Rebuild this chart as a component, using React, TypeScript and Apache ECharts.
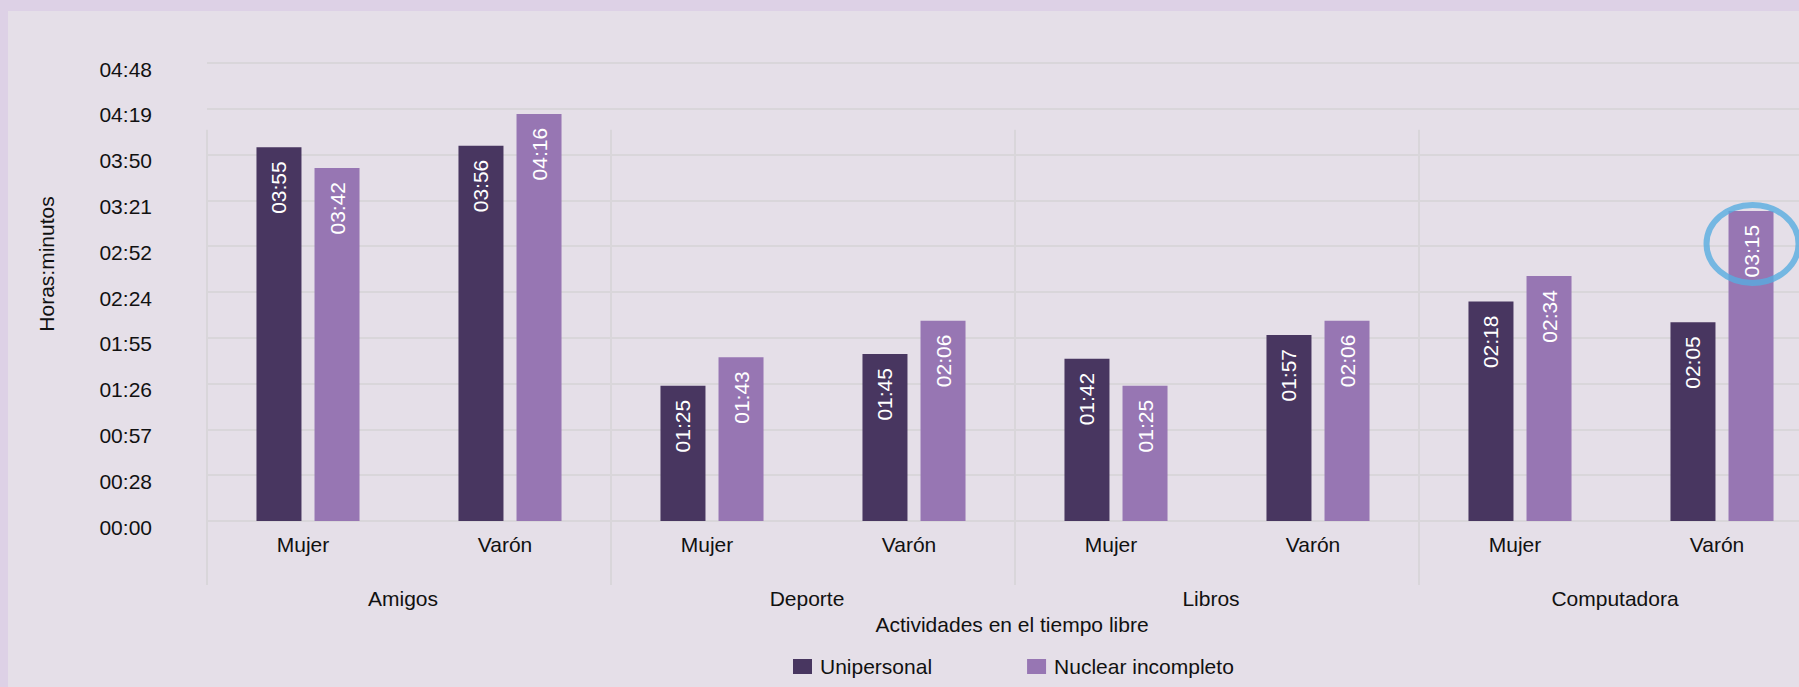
import React, { useEffect, useRef } from "react";
import * as echarts from "echarts";

// ---- data (minutes) ----
const groups = ["Amigos", "Deporte", "Libros", "Computadora"];
const subCategories = ["Mujer", "Varón", "Mujer", "Varón", "Mujer", "Varón", "Mujer", "Varón"];
const seriesNames = ["Unipersonal", "Nuclear incompleto"];
const unipersonal = [235, 236, 85, 105, 102, 117, 138, 125];
const nuclearIncompleto = [222, 256, 103, 126, 85, 126, 154, 195];
const axisMax = 288; // 04:48
const axisInterval = 28.8;
const separatorTopValue = 246;
const highlightIndex = 7;

const FONT = "'Liberation Sans', Arial, Helvetica, sans-serif";
const GRID_COLOR = "#d9d6da";
const DARK = "#483660";
const LIGHT = "#9776b3";

const pad = (n: number) => (n < 10 ? "0" + n : "" + n);
const fmt = (v: number) => {
  const m = Math.floor(v + 1e-6);
  return pad(Math.floor(m / 60)) + ":" + pad(m % 60);
};

export default function App() {
  const ref = useRef<HTMLDivElement>(null);
  useEffect(() => {
    if (!ref.current) return;
    const chart = echarts.init(ref.current, undefined, { renderer: "svg" });
    const barLabel = {
      show: true,
      position: "insideTop",
      rotate: 90,
      align: "right",
      verticalAlign: "middle",
      distance: 14,
      color: "#ffffff",
      fontSize: 21,
      fontFamily: FONT,
      formatter: (p: any) => fmt(p.value),
    };
    const option: any = {
      animation: false,
      backgroundColor: "#e5dfe8",
      textStyle: { fontFamily: FONT },
      grid: { left: 199, top: 52, width: 1616, height: 458, containLabel: false },
      legend: {
        data: seriesNames,
        left: 785,
        top: 645,
        padding: 0,
        itemWidth: 19,
        itemHeight: 15,
        itemGap: 95,
        icon: "rect",
        textStyle: { fontSize: 21, color: "#111", fontFamily: FONT, padding: [0, 0, 0, 3] },
      },
      xAxis: [
        {
          type: "category",
          data: subCategories,
          position: "bottom",
          axisLine: { show: true, lineStyle: { color: GRID_COLOR, width: 2 } },
          axisTick: { show: false },
          axisLabel: {
            fontSize: 21,
            color: "#111",
            margin: 13,
            fontFamily: FONT,
            interval: 0,
            padding: [0, 10, 0, 0],
          },
          splitLine: { show: false },
        },
        {
          type: "category",
          data: groups,
          position: "bottom",
          axisLine: { show: false },
          axisTick: { show: true, interval: 0, length: 64, lineStyle: { color: GRID_COLOR, width: 2 } },
          axisLabel: {
            fontSize: 21,
            color: "#111",
            margin: 67,
            fontFamily: FONT,
            interval: 0,
            padding: [0, 12, 0, 0],
          },
          splitLine: { show: false },
        },
      ],
      yAxis: {
        type: "value",
        min: 0,
        max: axisMax,
        interval: axisInterval,
        axisLine: { show: false },
        axisTick: { show: false },
        axisLabel: {
          fontSize: 21,
          color: "#111",
          margin: 55,
          fontFamily: FONT,
          verticalAlign: "top",
          lineHeight: 12,
          formatter: (v: number) => fmt(v),
        },
        splitLine: { show: true, lineStyle: { color: GRID_COLOR, width: 2 } },
      },
      series: [
        {
          type: "custom",
          xAxisIndex: 1,
          yAxisIndex: 0,
          silent: true,
          clip: false,
          z: 1,
          data: groups.map((_, i) => [i]),
          encode: { x: 0 },
          renderItem: (params: any, api: any) => {
            const i = api.value(0);
            const top = api.coord([i, separatorTopValue]);
            const base = api.coord([i, 0]);
            const half = api.size([1, 0])[0] / 2;
            return {
              type: "line",
              shape: { x1: top[0] - half, y1: top[1], x2: top[0] - half, y2: base[1] },
              style: { stroke: GRID_COLOR, lineWidth: 2 },
            };
          },
        },
        {
          name: seriesNames[0],
          type: "bar",
          data: unipersonal,
          barWidth: 45,
          barGap: "29%",
          itemStyle: { color: DARK },
          label: barLabel,
          z: 3,
        },
        {
          name: seriesNames[1],
          type: "bar",
          data: nuclearIncompleto,
          barWidth: 45,
          barGap: "29%",
          itemStyle: { color: LIGHT },
          label: barLabel,
          z: 3,
        },
      ],
      graphic: {
        elements: [
          {
            id: "yname",
            type: "text",
            x: 38,
            y: 253,
            rotation: Math.PI / 2,
            style: {
              text: "Horas:minutos",
              fontSize: 21,
              fontFamily: FONT,
              fill: "#111",
              align: "center",
              verticalAlign: "middle",
            },
          },
          {
            id: "xname",
            type: "text",
            x: 1004,
            y: 613,
            style: {
              text: "Actividades en el tiempo libre",
              fontSize: 21,
              fontFamily: FONT,
              fill: "#111",
              align: "center",
              verticalAlign: "middle",
            },
          },
        ],
      },
    };
    chart.setOption(option);

    // highlight ring around the highest "Computadora / Varón" bar
    try {
      const data = (chart as any).getModel().getSeriesByIndex(2).getData();
      const l = data.getItemLayout(highlightIndex);
      if (l) {
        const cx = l.x + l.width / 2 + 1.5;
        const top = Math.min(l.y, l.y + l.height);
        chart.setOption({
          graphic: {
            elements: [
              {
                id: "ring",
                type: "ellipse",
                z: 100,
                shape: { cx, cy: top + 33, rx: 46, ry: 39 },
                style: { fill: "none", stroke: "#58ade0", lineWidth: 6, opacity: 0.8 },
              },
            ],
          },
        });
      }
    } catch (e) {}

    return () => chart.dispose();
  }, []);

  return (
    <div style={{ position: "fixed", left: 0, top: 0, width: 1799, height: 687, background: "#ddd1e6", overflow: "hidden" }}>
      <div ref={ref} style={{ position: "absolute", left: 8, top: 11, width: 1840, height: 676 }} />
    </div>
  );
}
